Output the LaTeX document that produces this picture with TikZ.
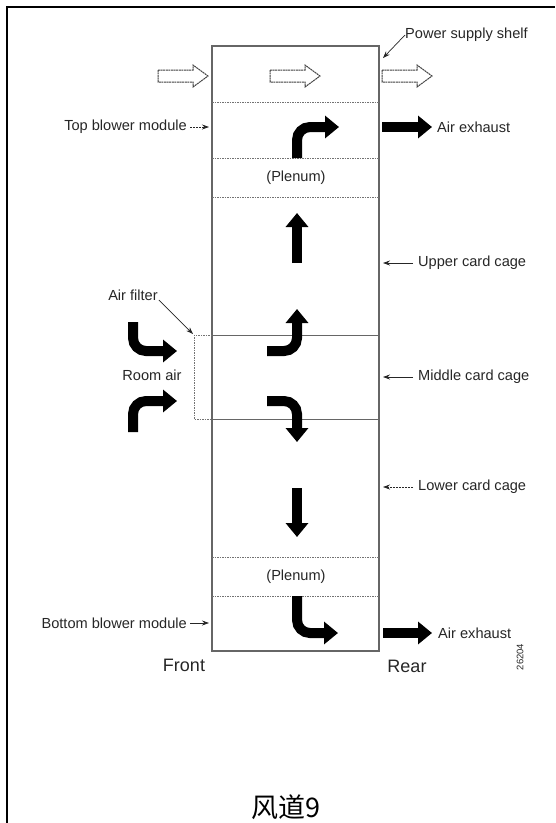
\documentclass[tikz,border=0pt]{standalone}
\usepackage{fontspec}
\setmainfont{Liberation Sans}
\newfontfamily\cjk{Noto Sans CJK SC}
\usetikzlibrary{arrows.meta}
\begin{document}
\begin{tikzpicture}[x=1pt,y=-1pt,
  boxline/.style={draw=black!60,line width=1.3pt},
  divline/.style={draw=black!55,line width=0.8pt,dash pattern=on 1.5pt off 1pt},
  flow/.style={draw=black,line width=10pt,rounded corners=13pt,-{Triangle[length=14pt,width=22pt]}},
  hollowline/.style={draw=black!75,line width=1pt,dash pattern=on 2pt off 0.6pt,fill=white},
  lead/.style={draw=black!85,line width=0.7pt,-{Stealth[length=7pt,width=5pt]}},
  lbl/.style={font=\fontsize{14.6}{16}\selectfont,inner sep=0pt,text=black!85},
  big/.style={font=\fontsize{18}{20}\selectfont,inner sep=0pt,text=black!85},
  hollow/.pic={\path[hollowline] (0,-6) -- (35,-6) -- (35,-11) -- (50,0) -- (35,11) -- (35,6) -- (0,6) -- cycle;}
]
\useasboundingbox (0,0) rectangle (555,823);
% frame
\draw[line width=2pt] (7,823) -- (7,7) -- (555,7);

% main box
\coordinate (tl) at (212,46);
\coordinate (br) at (379,651);
\draw[boxline] (tl) rectangle (br);
\foreach \yy in {102,158,197,557,596}
  \draw[divline] (212,\yy) -- (379,\yy);
% middle card cage / filter
\draw[boxline,line width=0.9pt] (212,335) -- (379,335);
\draw[boxline,line width=0.9pt] (212,419) -- (379,419);
\draw[divline] (212,335) -- (194,335) -- (194,419) -- (212,419);

% hollow arrows in power supply shelf
\pic at (158,76) {hollow};
\pic at (270,76) {hollow};
\pic at (382,76) {hollow};

% black airflow arrows
\draw[flow] (297,158) -- (297,127) -- (339,127);
\draw[flow] (382,127) -- (432,127);
\draw[flow] (297,263) -- (297,213);
\draw[flow] (267,351) -- (297,351) -- (297,309);
\draw[flow] (267,401) -- (297,401) -- (297,442);
\draw[flow] (297,488) -- (297,537);
\draw[flow] (297,596) -- (297,633) -- (338,633);
\draw[flow] (383,633) -- (432,633);
\draw[flow] (133,322) -- (133,351) -- (177,351);
\draw[flow] (133,432) -- (133,401) -- (177,401);

% labels
\node[lbl,anchor=west] (ps) at (405,35) {Power supply shelf};
\coordinate (psT) at (383,58);
\draw[lead] (ps.west) -- (psT);

\node[lbl,anchor=east] (tb) at (187,127) {Top blower module};
\coordinate (tbT) at (209,127);
\draw[lead,dash pattern=on 2pt off 1pt] ([xshift=3pt]tb.east) -- (tbT);

\node[lbl,anchor=west] (ae1) at (437,127) {Air exhaust};
\node[lbl] (pl1) at (296,178) {(Plenum)};

\node[lbl,anchor=west] (ucc) at (418,263) {Upper card cage};
\coordinate (uccT) at (383,263);
\draw[lead] ([xshift=-5pt]ucc.west) -- (uccT);

\node[lbl] (af) at (133,295) {Air filter};
\coordinate (afT) at (193,334);
\draw[lead] ([xshift=1pt,yshift=-5pt]af.east) -- (afT);

\node[lbl] (ra) at (152,375) {Room air};

\node[lbl,anchor=west] (mcc) at (418,377) {Middle card cage};
\coordinate (mccT) at (383,377);
\draw[lead] ([xshift=-5pt]mcc.west) -- (mccT);

\node[lbl,anchor=west] (lcc) at (418,487) {Lower card cage};
\coordinate (lccT) at (383,487);
\draw[lead,dash pattern=on 2pt off 1pt] ([xshift=-5pt]lcc.west) -- (lccT);

\node[lbl] (pl2) at (296,577) {(Plenum)};

\node[lbl,anchor=east] (bb) at (187,623) {Bottom blower module};
\coordinate (bbT) at (209,623);
\draw[lead] ([xshift=3pt]bb.east) -- (bbT);

\node[lbl,anchor=west] (ae2) at (438,633) {Air exhaust};

\node[big] (front) at (184,665) {Front};
\node[big] (rear) at (407,666) {Rear};
\node[font=\fontsize{9.5}{10}\selectfont,inner sep=0pt,rotate=90,text=black!85] (fid) at (520,657) {26204};

\node[font=\cjk\fontsize{27}{29}\selectfont,inner sep=0pt] (cap) at (286,807) {风道9};
\end{tikzpicture}
\end{document}
